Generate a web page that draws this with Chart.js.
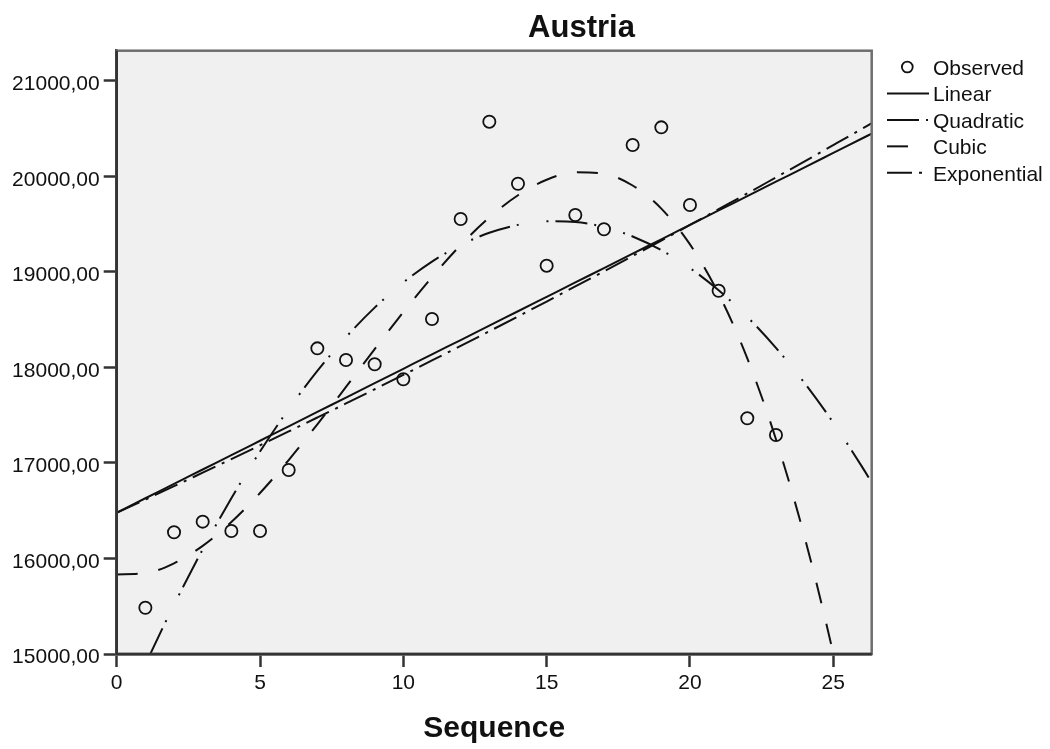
<!DOCTYPE html>
<html>
<head>
<meta charset="utf-8">
<title>Austria</title>
<script src="https://cdn.jsdelivr.net/npm/chart.js@4.4.1/dist/chart.umd.min.js"></script>
<style>
  html, body { margin: 0; padding: 0; background: #ffffff; }
  #wrap { position: relative; width: 1050px; height: 749px; }
</style>
</head>
<body>
<div id="wrap"><canvas id="chart"></canvas></div>
<script>
// Observed series
const sequence = [1, 2, 3, 4, 5, 6, 7, 8, 9, 10, 11, 12, 13, 14, 15, 16, 17, 18, 19, 20, 21, 22, 23];
const observed = [15484, 16274, 16385, 16287, 16287, 16926, 18199, 18077, 18032, 17875, 18506, 19553,
                  20571, 19922, 19064, 19594, 19445, 20327, 20512, 19699, 18802, 17467, 17292];

// Fitted curves, sampled along the sequence axis
const fitX = [0, 1, 2, 3, 4, 5, 6, 7, 8, 9, 10, 11, 12, 13, 14, 15, 16, 17, 18, 19, 20, 21, 22, 23, 24, 25, 26, 26.34];
const linearFit = [16479, 16630, 16780, 16931, 17081, 17232, 17383, 17533, 17684, 17834, 17985, 18136, 18286, 18437,
                   18587, 18738, 18889, 19039, 19190, 19340, 19491, 19642, 19792, 19943, 20093, 20244, 20395, 20446];
const quadraticFit = [14220, 14890, 15515, 16095, 16630, 17119, 17563, 17962, 18316, 18625, 18888, 19107, 19280, 19408,
                      19491, 19528, 19521, 19468, 19370, 19226, 19039, 18806, 18528, 18204, 17835, 17421, 16961, 16795];
const cubicFit = [15833, 15846, 15949, 16132, 16381, 16685, 17030, 17404, 17795, 18191, 18578, 18945, 19280, 19569,
                  19801, 19963, 20042, 20026, 19903, 19661, 19287, 18769, 18094, 17248, 16222, 15002, 13574, 13040];
const exponentialFit = [16477, 16616, 16756, 16898, 17040, 17184, 17329, 17475, 17622, 17771, 17921, 18072, 18224, 18378,
                        18533, 18689, 18847, 19005, 19166, 19327, 19490, 19655, 19820, 19988, 20156, 20326, 20497, 20556];

const seriesNames = ['Observed', 'Linear', 'Quadratic', 'Cubic', 'Exponential'];
const chartTitle = 'Austria';
const xAxisTitle = 'Sequence';

// Axis ranges and tick values
const xMin = 0, xMax = 26.34;
const yMin = 15000, yMax = 21314;
const xTicks = [0, 5, 10, 15, 20, 25];
const yTicks = [15000, 16000, 17000, 18000, 19000, 20000, 21000];

const FONT = "'Liberation Sans', Arial, Helvetica, sans-serif";
const INK = '#111111';

const toPoints = (xs, ys) => xs.map((x, i) => ({ x: x, y: ys[i] }));

function fitLine(label, values, dash) {
  return {
    label: label,
    data: toPoints(fitX, values),
    showLine: true,
    borderColor: INK,
    borderWidth: 2,
    borderDash: dash,
    pointRadius: 0,
    pointHoverRadius: 0,
    cubicInterpolationMode: 'monotone',
    fill: false
  };
}

// Plot background, frame, title and legend
const decorations = {
  id: 'decorations',
  beforeDatasetsDraw(chart) {
    const { ctx, chartArea: a } = chart;
    ctx.save();
    ctx.fillStyle = '#f0f0f0';
    ctx.fillRect(a.left, a.top, a.right - a.left, a.bottom - a.top);
    ctx.restore();
  },
  afterDraw(chart) {
    const { ctx, chartArea: a } = chart;
    ctx.save();
    // frame
    ctx.strokeStyle = '#6e6e6e';
    ctx.lineWidth = 2.5;
    ctx.strokeRect(a.left, a.top, a.right - a.left, a.bottom - a.top);
    ctx.strokeStyle = '#333333';
    ctx.beginPath();
    ctx.moveTo(a.left, a.top);
    ctx.lineTo(a.left, a.bottom);
    ctx.lineTo(a.right, a.bottom);
    ctx.stroke();

    // title
    ctx.fillStyle = INK;
    ctx.font = "bold 31px " + FONT;
    ctx.textAlign = 'center';
    ctx.textBaseline = 'alphabetic';
    ctx.fillText(chartTitle, 581.5, 37);

    // legend
    ctx.font = "21px " + FONT;
    ctx.textAlign = 'left';
    chart.data.datasets.forEach((ds, i) => {
      const base = 75 + i * 26.45;
      const cy = base - 8;
      ctx.strokeStyle = INK;
      if (!ds.showLine) {
        ctx.setLineDash([]);
        ctx.lineWidth = 1.8;
        ctx.beginPath();
        ctx.arc(907.3, cy, 5.4, 0, Math.PI * 2);
        ctx.stroke();
      } else {
        ctx.setLineDash(ds.borderDash || []);
        ctx.lineDashOffset = 0;
        ctx.lineWidth = 2;
        ctx.beginPath();
        ctx.moveTo(887, cy);
        ctx.lineTo(929, cy);
        ctx.stroke();
        ctx.setLineDash([]);
      }
      ctx.fillStyle = INK;
      ctx.fillText(ds.label, 933, base);
    });
    ctx.restore();
  }
};

const tickStyle = { family: FONT, size: 21 };
const useTicks = (values) => (scale) => { scale.ticks = values.map((v) => ({ value: v })); };

new Chart(document.getElementById('chart'), {
  type: 'scatter',
  data: {
    datasets: [
      {
        label: seriesNames[0],
        data: toPoints(sequence, observed),
        showLine: false,
        pointStyle: 'circle',
        pointRadius: 6.1,
        pointHoverRadius: 6.1,
        pointBorderWidth: 1.8,
        borderColor: INK,
        backgroundColor: 'rgba(0,0,0,0)'
      },
      fitLine(seriesNames[1], linearFit, []),
      fitLine(seriesNames[2], quadraticFit, [32, 7, 2, 28, 2, 7]),
      fitLine(seriesNames[3], cubicFit, [21, 21]),
      fitLine(seriesNames[4], exponentialFit, [25, 7, 3, 7])
    ]
  },
  options: {
    responsive: true,
    maintainAspectRatio: false,
    devicePixelRatio: 1,
    animation: false,
    events: [],
    layout: { padding: { top: 50.7, right: 178.3, bottom: 0, left: 0 } },
    elements: { line: { capBezierPoints: false } },
    plugins: {
      legend: { display: false },
      title: { display: false },
      tooltip: { enabled: false }
    },
    scales: {
      x: {
        type: 'linear',
        min: xMin,
        max: xMax,
        afterBuildTicks: useTicks(xTicks),
        afterFit: (s) => { s.height = 95; },
        ticks: {
          color: INK,
          font: tickStyle,
          padding: 4,
          maxRotation: 0,
          autoSkip: false,
          callback: (v) => String(v)
        },
        grid: { drawOnChartArea: false, drawTicks: true, tickLength: 13, tickWidth: 2.5, tickColor: '#333333' },
        border: { display: true, color: '#333333', width: 2.5 },
        title: {
          display: true,
          text: xAxisTitle,
          color: INK,
          font: { family: FONT, size: 30, weight: 'bold' },
          padding: { top: 0, bottom: 2.4 }
        }
      },
      y: {
        type: 'linear',
        min: yMin,
        max: yMax,
        afterBuildTicks: useTicks(yTicks),
        afterFit: (s) => { s.width = 116.7; },
        ticks: {
          color: INK,
          font: tickStyle,
          padding: 4,
          labelOffset: 3.5,
          autoSkip: false,
          callback: (v) => v.toFixed(2).replace('.', ',')
        },
        grid: { drawOnChartArea: false, drawTicks: true, tickLength: 13, tickWidth: 2.5, tickColor: '#333333' },
        border: { display: true, color: '#333333', width: 2.5 }
      }
    }
  },
  plugins: [decorations]
});
</script>
</body>
</html>
